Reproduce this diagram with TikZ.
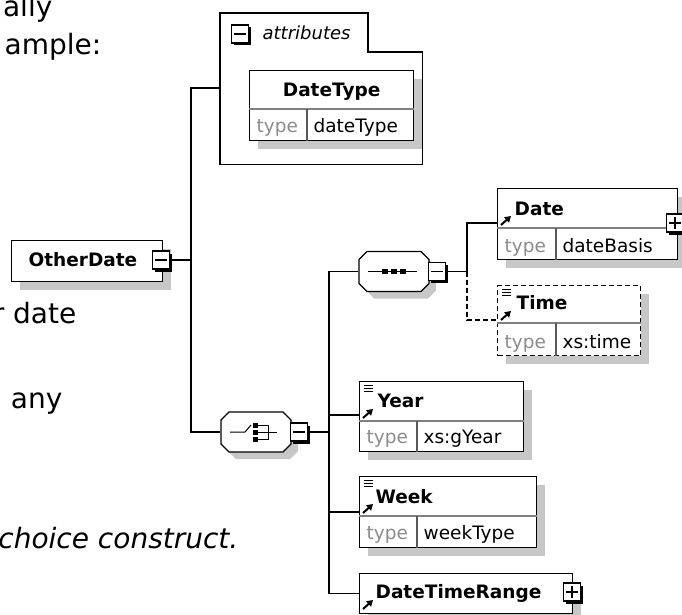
\documentclass[tikz,border=0pt]{standalone}
\usepackage{fontspec}
\setmainfont{DejaVu Sans}
\usetikzlibrary{shadows,arrows.meta,calc}
\definecolor{shadowgray}{gray}{0.78}
\definecolor{typegray}{gray}{0.55}
\newcommand\bodyfnt{\fontsize{28}{34}\selectfont}
\newcommand\boldfnt{\fontsize{18.5}{22}\selectfont\bfseries}
\newcommand\smallfnt{\fontsize{18.5}{22}\selectfont}
\newcommand\rowsplit[3]{%
  \draw[line width=1.2pt, black!50] ($(#1.north west)+(0,#2)$) -- ($(#1.north east)+(0,#2)$);
  \draw[line width=1.2pt, black!65] ($(#1.north west)+(#3,#2)$) -- ($(#1.south west)+(#3,0)$);}
\newcommand\refarrow[2]{%
  \draw[line width=2pt, -{Triangle[length=6pt,width=7pt]}] ($(#1.north west)+(4,#2)$) -- ++(10,-9);}
\newcommand\listicon[1]{%
  \foreach \k in {0,3,6} \draw[line width=0.9pt] ($(#1.north west)+(5,{4+\k})$) -- ++(9,0);}
\newcommand\minussign[1]{\draw[line width=1.3pt] ($(#1.center)+(-6,0)$) -- ($(#1.center)+(6,0)$);}
\newcommand\plussign[1]{\draw[line width=1.3pt] ($(#1.center)+(-6,0)$) -- ($(#1.center)+(6,0)$);
  \draw[line width=1.3pt] ($(#1.center)+(0,-6)$) -- ($(#1.center)+(0,6)$);}
\newcommand\octashape[1]{%
  \fill[shadowgray, shift={(#1.center)}, xshift=7pt, yshift=-7pt] (-35,-12) -- (-27,-20) -- (27,-20) -- (35,-12) -- (35,12) -- (27,20) -- (-27,20) -- (-35,12) -- cycle;
  \draw[fill=white, shift={(#1.center)}] (-35,-12) -- (-27,-20) -- (27,-20) -- (35,-12) -- (35,12) -- (27,20) -- (-27,20) -- (-35,12) -- cycle;}
\begin{document}
\begin{tikzpicture}[x=1pt,y=-1pt, line width=1.3pt,
  elbox/.style={draw, fill=white, inner sep=0pt, anchor=north west,
    general shadow={fill=shadowgray, draw=none, shadow xshift=8pt, shadow yshift=-8pt}},
  expander/.style={draw, fill=white, inner sep=0pt, minimum width=17pt, minimum height=18pt, line width=1.2pt,
    general shadow={fill=black, draw=none, shadow xshift=2.5pt, shadow yshift=-2.5pt}},
  hdtext/.style={font=\boldfnt, anchor=base west, inner sep=0pt},
  typelbl/.style={font=\smallfnt, text=typegray, anchor=base west, inner sep=0pt},
  valtext/.style={font=\smallfnt, anchor=base west, inner sep=0pt},
  bodytext/.style={font=\bodyfnt, anchor=base east, inner sep=0pt},
  optline/.style={dash pattern=on 5pt off 3pt},
  icon/.style={line width=1pt},
  octnode/.style={inner sep=0pt, minimum width=70pt, minimum height=40pt}]
\useasboundingbox (0,0) rectangle (682,615);
\fill[white] (0,0) rectangle (682,615);

% body text
\node[bodytext] (l1) at (53,17) {ally};
\node[bodytext] (l2) at (102,55) {ample:};
\node[bodytext] (l3) at (77,323) {r date};
\node[bodytext] (l4) at (63,408) {any};
\node[bodytext, font=\bodyfnt\itshape] (l5) at (239,548) {choice construct.};

% attributes container
\node[inner sep=0pt, minimum width=201pt, minimum height=150pt, anchor=north west] (attrs) at (220,13) {};
\draw (attrs.south west) -- (attrs.north west) -- ++(148,0) -- ++(0,39) -- ($(attrs.north east)+(0,39)$) -- (attrs.south east) -- cycle;
\node[expander] (atm) at (240,34) {};
\minussign{atm}
\node[font=\fontsize{18}{21}\selectfont\itshape, anchor=base west, inner sep=0pt] (attrlbl) at (262,40) {attributes};

% DateType
\node[elbox, minimum width=164pt, minimum height=70pt] (dtype) at (249,70) {};
\rowsplit{dtype}{39}{58}
\node[hdtext, anchor=base] (dtypeT) at ($(dtype.north)+(0,27)$) {DateType};
\node[typelbl] (dtypeK) at ($(dtype.north west)+(7,62)$) {type};
\node[valtext] (dtypeV) at ($(dtype.north west)+(64,62)$) {dateType};

% OtherDate
\node[elbox, minimum width=151pt, minimum height=41pt] (od) at (11,240) {};
\node[hdtext] (odT) at ($(od.north west)+(17,26)$) {OtherDate};
\node[expander] (odm) at (161,260) {};
\minussign{odm}

% choice
\node[octnode] (choice) at (256,432) {};
\octashape{choice}
\draw[icon] ($(choice.center)+(-26,0)$) -- ($(choice.center)+(-11,0)$) -- ($(choice.center)+(-5,-7)$);
\foreach \d in {-7,0,7} \fill ($(choice.center)+(-3,{\d-2.5})$) rectangle ++(5,5);
\draw[icon] ($(choice.center)+(2,-7)$) -- ($(choice.center)+(12,-7)$) -- ($(choice.center)+(12,7)$) -- ($(choice.center)+(2,7)$);
\draw[icon] ($(choice.center)+(2,0)$) -- ($(choice.center)+(21,0)$);
\node[expander] (chm) at (299,432) {};
\minussign{chm}

% sequence
\node[octnode] (seq) at (394,271.5) {};
\octashape{seq}
\draw[icon] ($(seq.center)+(-26,0)$) -- ($(seq.center)+(23,0)$);
\foreach \d in {-9,0,9} \fill ($(seq.center)+({\d-3},-2.5)$) rectangle ++(6,5);
\node[expander] (seqm) at (437,271.5) {};
\minussign{seqm}

% Date
\node[elbox, minimum width=180pt, minimum height=71pt] (date) at (497,188) {};
\rowsplit{date}{40}{59}
\node[hdtext] (dateT) at ($(date.north west)+(17,27)$) {Date};
\node[typelbl] (dateK) at ($(date.north west)+(7,64)$) {type};
\node[valtext] (dateV) at ($(date.north west)+(65,64)$) {dateBasis};
\refarrow{date}{37}
\node[expander] (datep) at (675,223) {};
\plussign{datep}

% Time (optional)
\node[elbox, optline, minimum width=143pt, minimum height=70pt] (time) at (497,285) {};
\rowsplit{time}{38}{59}
\node[hdtext] (timeT) at ($(time.north west)+(19,24)$) {Time};
\node[typelbl] (timeK) at ($(time.north west)+(7,63)$) {type};
\node[valtext] (timeV) at ($(time.north west)+(65,63)$) {xs:time};
\listicon{time}
\refarrow{time}{35}

% Year
\node[elbox, minimum width=164pt, minimum height=70pt] (year) at (359,381) {};
\rowsplit{year}{40}{58}
\node[hdtext] (yearT) at ($(year.north west)+(18,26)$) {Year};
\node[typelbl] (yearK) at ($(year.north west)+(7,62)$) {type};
\node[valtext] (yearV) at ($(year.north west)+(64,62)$) {xs:gYear};
\listicon{year}
\refarrow{year}{37}

% Week
\node[elbox, minimum width=177pt, minimum height=71pt] (week) at (359,476) {};
\rowsplit{week}{40}{58}
\node[hdtext] (weekT) at ($(week.north west)+(16,27)$) {Week};
\node[typelbl] (weekK) at ($(week.north west)+(7,63)$) {type};
\node[valtext] (weekV) at ($(week.north west)+(64,63)$) {weekType};
\listicon{week}
\refarrow{week}{37}

% DateTimeRange
\node[elbox, minimum width=213pt, minimum height=40pt] (dtr) at (359,573) {};
\node[hdtext] (dtrT) at ($(dtr.north west)+(16,25)$) {DateTimeRange};
\refarrow{dtr}{36}
\node[expander] (dtrp) at (572,592) {};
\plussign{dtrp}

% connectors
\coordinate (j1) at (191,260);
\draw (odm.east) -- (j1);
\draw (j1) |- ($(attrs.north west)+(0,75)$);
\draw (j1) |- (choice.west);
\coordinate (j2) at (329,432);
\draw (chm.east) -- (j2);
\draw (j2) |- (seq.west);
\draw (j2) |- ($(year.north west)+(0,34)$);
\draw (j2) |- ($(week.north west)+(0,36)$);
\draw (j2) |- (dtr.west);
\coordinate (j3) at (467,271.5);
\draw (seqm.east) -- (j3);
\draw (j3) |- ($(date.north west)+(0,35)$);
\draw[optline] (j3) |- ($(time.north west)+(0,35)$);
\end{tikzpicture}
\end{document}
